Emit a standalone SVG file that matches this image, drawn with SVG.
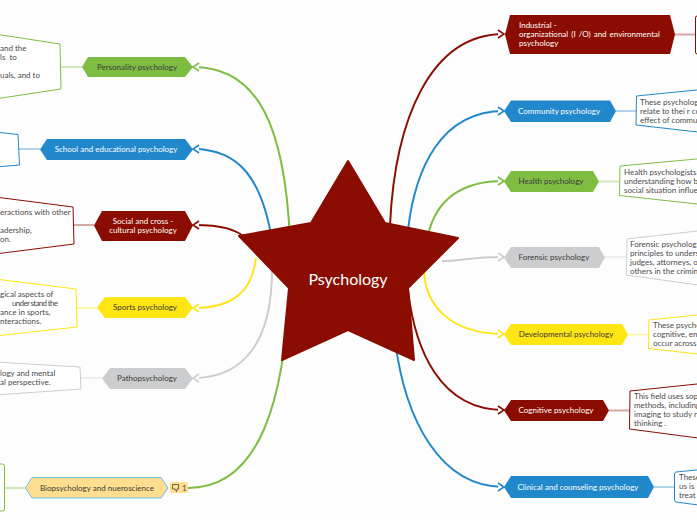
<svg xmlns="http://www.w3.org/2000/svg" width="697" height="520" viewBox="0 0 697 520">
<style>
text{font-family:"Lato","Open Sans",sans-serif;font-size:8px;fill:#4a4a4a}
.lab{text-anchor:middle}
.w{fill:#fff}
.d{fill:#3a3a3a}
.c{fill:none;stroke-width:2}
.l{fill:none;stroke-width:2;stroke-opacity:.35}
.n{fill:#fff;stroke-width:1;stroke-linejoin:round}
.gs{stroke:#7ebd42}.bs{stroke:#2288cc}.rs{stroke:#8b0c00}.ys{stroke:#ffe512}.ks{stroke:#cccdce}
.gf{fill:#7ebd42}.bf{fill:#2288cc}.rf{fill:#8b0c00}.yf{fill:#ffe512}.kf{fill:#cccdce}
</style>
<defs>
<marker id="ag" markerUnits="userSpaceOnUse" markerWidth="12" markerHeight="12" refX="11" refY="6" orient="auto"><path d="M5,2 L11,6 L5,10" fill="#fdfdfd" stroke="#7ebd42" stroke-width="1.6"/></marker>
<marker id="ab" markerUnits="userSpaceOnUse" markerWidth="12" markerHeight="12" refX="11" refY="6" orient="auto"><path d="M5,2 L11,6 L5,10" fill="#fdfdfd" stroke="#2288cc" stroke-width="1.6"/></marker>
<marker id="ar" markerUnits="userSpaceOnUse" markerWidth="12" markerHeight="12" refX="11" refY="6" orient="auto"><path d="M5,2 L11,6 L5,10" fill="#fdfdfd" stroke="#8b0c00" stroke-width="1.6"/></marker>
<marker id="ay" markerUnits="userSpaceOnUse" markerWidth="12" markerHeight="12" refX="11" refY="6" orient="auto"><path d="M5,2 L11,6 L5,10" fill="#fdfdfd" stroke="#ffe512" stroke-width="1.6"/></marker>
<marker id="ak" markerUnits="userSpaceOnUse" markerWidth="12" markerHeight="12" refX="11" refY="6" orient="auto"><path d="M5,2 L11,6 L5,10" fill="#fdfdfd" stroke="#cccdce" stroke-width="1.6"/></marker>
</defs>
<rect width="697" height="520" fill="#fdfdfd"/>
<g id="connectors">
<path class="c gs" marker-end="url(#ag)" d="M290,240 C285,130 260,67 193,67"/>
<path class="c bs" marker-end="url(#ab)" d="M272,240 C262,180 240,149 193,149"/>
<path class="c rs" marker-end="url(#ar)" d="M245,237 C235,230 225,225 193,225"/>
<path class="c ys" marker-end="url(#ay)" d="M256,258 C252,290 235,308 193,308"/>
<path class="c ks" marker-end="url(#ak)" d="M272,270 C272,340 245,378 193,378"/>
<path class="c gs" d="M290,280 C285,400 260,488 188,488"/>
<path class="c rs" marker-end="url(#ar)" d="M390,225 C395,120 430,34 504,34"/>
<path class="c bs" marker-end="url(#ab)" d="M408,230 C415,170 440,111 504,111"/>
<path class="c gs" marker-end="url(#ag)" d="M428,235 C435,205 455,181 504,181"/>
<path class="c ks" marker-end="url(#ak)" d="M442,261 C460,261 470,257 504,257"/>
<path class="c ys" marker-end="url(#ay)" d="M424,270 C425,305 450,334 504,334"/>
<path class="c rs" marker-end="url(#ar)" d="M408,290 C415,350 440,410 504,410"/>
<path class="c bs" marker-end="url(#ab)" d="M395,340 C405,420 440,487 504,487"/>
<path class="l gs" d="M61,67H82"/>
<path class="l bs" d="M19,149H40"/>
<path class="l rs" d="M74,225H94"/>
<path class="l ys" d="M77,308H97"/>
<path class="l ks" d="M81,378H102"/>
<path class="l gs" d="M5,488H25"/>
<path class="l rs" d="M675,34.500H696"/>
<path class="l bs" d="M616,111H636"/>
<path class="l gs" d="M599,181.500H619"/>
<path class="l ks" d="M605,257H626"/>
<path class="l ys" d="M628,334.500H648"/>
<path class="l rs" d="M609,410.500H630"/>
<path class="l bs" d="M654,487H675"/>
</g>
<g id="node-personality">
<path class="n gs" d="M-5,34 L60,44 L61,89 L-5,99Z"/>
<text x="0" y="51">and the</text><text x="0" y="60" style="word-spacing:2px">ls to</text><text x="0" y="78">uals, and to</text>
<path class="gf" d="M82,67 L88,57 H185 L193,67 L185,77 H88Z"/>
<text class="lab d" x="137" y="69.500">Personality psychology</text>
</g>
<g id="node-school">
<path class="n bs" d="M-5,132 L18,134.500 L19.500,165 L-5,167Z"/>
<path class="bf" d="M40,149.500 L47,139 H185 L193,149.500 L185,160 H47Z"/>
<text class="lab w" x="116" y="152">School and educational psychology</text>
</g>
<g id="node-social">
<path class="n rs" d="M-5,197 L73,207 L74,244 L-5,254Z"/>
<text x="0" y="215">eractions with other</text><text x="0" y="233">adership,</text><text x="0" y="242">on.</text>
<path class="rf" d="M94,225.500 L102,211 H185 L193,225.500 L185,241 H102Z"/>
<text class="lab w" x="143" y="224">Social and cross -</text><text class="lab w" x="143" y="233">cultural psychology</text>
</g>
<g id="node-sports">
<path class="n ys" d="M-5,279 L76,289 L77,327 L-5,336Z"/>
<text x="0" y="297">gical aspects of</text><text x="12" y="306" textLength="46">under stand the</text><text x="0" y="315">ance in sports,</text><text x="0" y="324">nteractions.</text>
<path class="yf" d="M97,307.500 L105,297 H185 L193,307.500 L185,318 H105Z"/>
<text class="lab d" x="145" y="310">Sports psychology</text>
</g>
<g id="node-patho">
<path class="n ks" d="M-5,362 L80,367 L81,389 L-5,395Z"/>
<text x="0" y="376">logy and mental</text><text x="0" y="385">al perspective.</text>
<path class="kf" d="M102,378.500 L110,368 H185 L193,378.500 L185,389 H110Z"/>
<text class="lab d" x="147" y="381">Pathopsychology</text>
</g>
<g id="node-bio">
<path class="n gs" d="M-5,464 H2 Q4.500,464 4.500,466 V509 Q4.500,511 2,511 H-5Z"/>
<path fill="#ffdf8f" stroke="#6cbce8" stroke-width="1" d="M25.500,488 L32,477.500 H161 L168,488 L161,498 H32Z"/>
<text class="lab d" x="97" y="490.500">Biopsychology and nueroscience</text>
<rect x="170" y="482" width="18" height="11" rx="2" fill="#ffdf8f"/>
<path d="M172.500,484.500 H178.500 V489 H177 L176.500,491.500 L175,489 H172.500Z" fill="none" stroke="#444" stroke-width=".8"/>
<text x="182" y="491">1</text>
</g>
<g id="node-industrial">
<path class="n rs" d="M702,16 H697 Q695.500,16 695.500,18 V52 Q695.500,54 697,54 H702Z"/>
<path class="rf" d="M505,34.500 L510,15 H670 L675,34.500 L670,54 H510Z"/>
<text class="w" x="519" y="28">Industrial -</text><text class="w" x="519" y="37" style="word-spacing:1px">organizational (I /O)  and environmental</text><text class="w" x="519" y="46">psychology</text>
</g>
<g id="node-community">
<path class="n bs" d="M702,89.500 L636.500,96 L636,125 L702,132.500Z"/>
<path class="bf" d="M504,111 L511,100.500 H610 L616,111 L610,122 H511Z"/>
<text class="lab w" x="559" y="114">Community psychology</text>
<text x="640" y="105">These psycholog</text><text x="640" y="114">relate to thei r co</text><text x="640" y="123">effect of commu</text>
</g>
<g id="node-health">
<path class="n gs" d="M702,158.500 L620,166 L619.500,195.500 L702,204.500Z"/>
<path class="gf" d="M504,181.500 L511,171 H593 L599,181.500 L593,192 H511Z"/>
<text class="lab d" x="551" y="184">Health psychology</text>
<text x="624" y="175">Health psychologists</text><text x="624" y="184">understanding how bi</text><text x="624" y="193">social situation influe</text>
</g>
<g id="node-forensic">
<path class="n ks" d="M702,230.500 L627,239 L626.500,275 L702,285.500Z"/>
<path class="kf" d="M504,257.500 L511,247 H599 L605,257.500 L599,268 H511Z"/>
<text class="lab d" x="554" y="260">Forensic psychology</text>
<text x="630" y="247">Forensic psychologi</text><text x="630" y="256">principles to unders</text><text x="630" y="265">judges, attorneys, o</text><text x="630" y="274">others in the crimin</text>
</g>
<g id="node-developmental">
<path class="n ys" d="M702,314.500 L649,320 L648.500,348.500 L702,354.500Z"/>
<path class="yf" d="M504,334.500 L511,324 H622 L628,334.500 L622,345 H511Z"/>
<text class="lab d" x="566" y="337">Developmental psychology</text>
<text x="653" y="328">These psycho</text><text x="653" y="337">cognitive, em</text><text x="653" y="346">occur  across</text>
</g>
<g id="node-cognitive">
<path class="n rs" d="M702,383.500 L630,391 L629.500,429 L702,438.500Z"/>
<path class="rf" d="M504,410.500 L511,400 H603 L609,410.500 L603,421 H511Z"/>
<text class="lab w" x="556" y="413">Cognitive psychology</text>
<text x="634" y="399">This field  uses sop</text><text x="634" y="408">methods, including</text><text x="634" y="417">imaging  to study r</text><text x="634" y="426">thinking .</text>
</g>
<g id="node-clinical">
<path class="n bs" d="M702,469.500 L676,472 Q674.500,472.500 674.500,474 V500 Q674.500,501.500 676,502 L702,505.500Z"/>
<path class="bf" d="M504,487 L511,476 H648 L654,487 L648,498 H511Z"/>
<text class="lab w" x="578" y="489.500">Clinical and counseling psychology</text>
<text x="679" y="480">These</text><text x="679" y="489">us  is</text><text x="679" y="498">treat</text>
</g>
<g id="node-root">
<path fill="#8b0c00" stroke="#8b0c00" stroke-width="2" stroke-linejoin="round" d="M348,161 L385,223 L458,238 L408,288 L414,360 L348,330 L282,360 L289,288 L239,236 L311,223Z"/>
<text x="348" y="285" text-anchor="middle" style="font-size:16px;fill:#fff">Psychology</text>
</g>
</svg>
